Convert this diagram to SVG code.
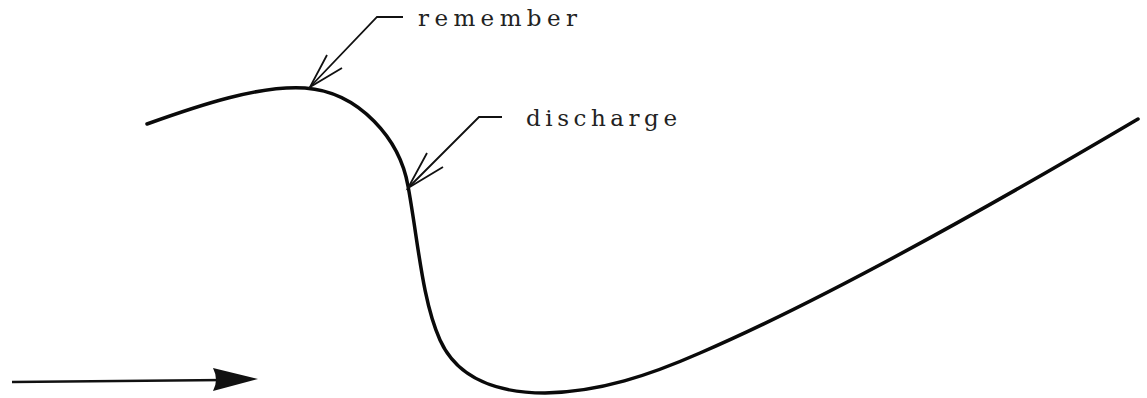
<svg xmlns="http://www.w3.org/2000/svg" width="1147" height="398" viewBox="0 0 1147 398">
<style>
.lbl{font-family:"DejaVu Serif","Liberation Serif",serif;font-size:23px;fill:#222}
.lead{fill:none;stroke:#111;stroke-width:1.8;stroke-linejoin:miter}
.curve{fill:none;stroke:#0a0a0a;stroke-width:3.5;stroke-linecap:round}
</style>
<rect width="1147" height="398" fill="#fff"/>
<g id="curve">
<path class="curve" d="M147,124 C200,105 260,85 305,88 C360,92 400,140 408,186 C418,240 422,300 440,340 C458,380 500,393 545,393 C600,392 650,375 700,353 C800,310 950,230 1138,119"/>
</g>
<g id="connectors">
<g id="remember-leader">
<path class="lead" d="M403,17 L377,17 L310,87"/>
<path class="lead" d="M327,55 L310,87 L342,68"/>
</g>
<g id="discharge-leader">
<path class="lead" d="M502,117 L479,117 L408,188"/>
<path class="lead" d="M427,153 L408,188 L443,167"/>
</g>
<g id="flow-arrow">
<path d="M12,382 L225,380" fill="none" stroke="#111" stroke-width="2.5"/>
<path d="M258,379 L213,368 Q219,380 213,391 Z" fill="#111"/>
</g>
</g>
<g id="remember">
<text class="lbl" x="418" y="26" textLength="159" lengthAdjust="spacing">remember</text>
</g>
<g id="discharge">
<text class="lbl" x="526" y="126" textLength="151" lengthAdjust="spacing">discharge</text>
</g>
</svg>
